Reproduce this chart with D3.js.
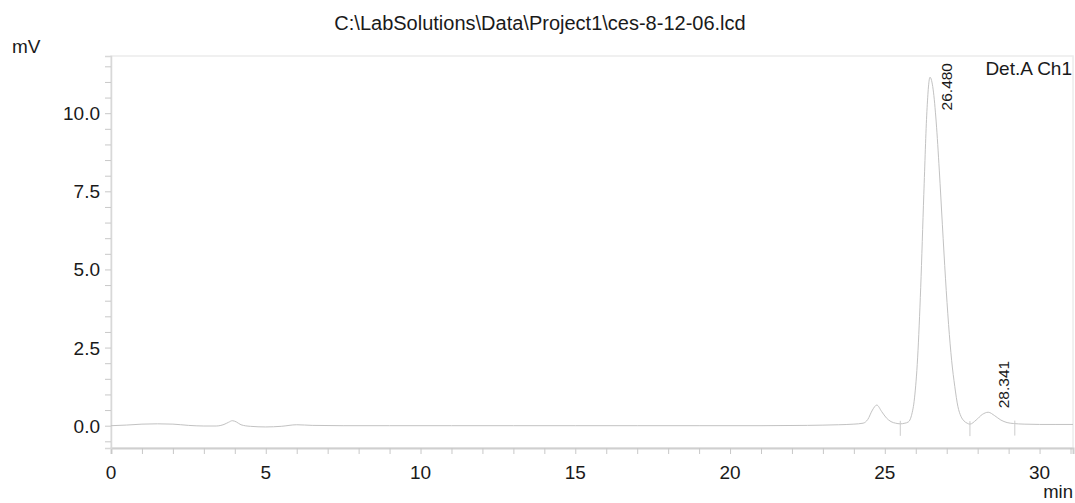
<!DOCTYPE html>
<html>
<head>
<meta charset="utf-8">
<script src="https://cdn.jsdelivr.net/npm/d3@7"></script>
<style>
  html, body { margin: 0; padding: 0; background: #fff; }
  svg { display: block; font-family: "Liberation Sans", Arial, sans-serif; }
</style>
</head>
<body>
<svg id="chart" width="1075" height="503"></svg>
<script>
// ---- data ----
const title = "C:\\LabSolutions\\Data\\Project1\\ces-8-12-06.lcd";
const channelLabel = "Det.A Ch1";
const yUnit = "mV";
const xUnit = "min";

const timeMin = [0, 0.5, 1.0, 1.5, 2.0, 2.5, 3.0, 3.4, 3.65, 3.8, 3.92, 4.05, 4.2, 4.5, 5.0, 5.5, 6.0, 6.5, 7.5, 9, 11, 13, 15, 17, 19, 21, 22.5, 23.5, 24.0, 24.3, 24.45, 24.6, 24.74, 24.9, 25.05, 25.2, 25.35, 25.5,
  25.65, 25.76, 25.86, 25.96, 26.06, 26.16, 26.26, 26.36, 26.46, 26.56, 26.66, 26.76, 26.86, 26.96, 27.06, 27.16, 27.26, 27.36, 27.46, 27.56, 27.66, 27.75,
  27.95, 28.15, 28.34, 28.55, 28.75, 28.95, 29.15, 29.5, 30.0, 30.5, 31.08];
const signalMv = [0.0, 0.02, 0.05, 0.06, 0.05, 0.01, -0.01, -0.01, 0.04, 0.11, 0.16, 0.12, 0.03, -0.02, -0.04, -0.02, 0.03, 0.01, 0.0, 0.0, 0.0, 0.0, 0.0, 0.0, 0.0, 0.0, 0.01, 0.03, 0.05, 0.08, 0.2, 0.5, 0.66, 0.45, 0.25, 0.13, 0.08, 0.06,
  0.08, 0.12, 0.32, 0.89, 2.17, 4.43, 7.4, 10.06, 11.15, 10.77, 9.72, 8.18, 6.43, 4.72, 3.24, 2.08, 1.26, 0.62, 0.3, 0.15, 0.08, 0.05,
  0.18, 0.36, 0.43, 0.32, 0.18, 0.1, 0.07, 0.05, 0.04, 0.04, 0.04];

const peakTimes = [26.48, 28.341];
const peakHeights = [11.15, 0.43];
const peakLabels = ["26.480", "28.341"];
const baselineMarks = [25.5, 27.75, 29.2];

const xMajorTicks = [0, 5, 10, 15, 20, 25, 30];
const xMajorLabels = ["0", "5", "10", "15", "20", "25", "30"];
const yMajorTicks = [0, 2.5, 5, 7.5, 10];
const yMajorLabels = ["0.0", "2.5", "5.0", "7.5", "10.0"];

// ---- layout ----
const svg = d3.select("#chart");
const L = 111, R = 1073, T = 56, B = 448;
const x = d3.scaleLinear().domain([0, 31.08]).range([L, R]);
const y = d3.scaleLinear().domain([-0.714, 11.83]).range([B, T]);

const axisColor = "#c8c8c8";
const textColor = "#1a1a1a";
const fs = 19;

// frame
svg.append("rect").attr("x", L).attr("y", T).attr("width", R - L).attr("height", B - T)
  .attr("fill", "none").attr("stroke", "#ececec").attr("stroke-width", 1.5);

// minor ticks arrays
const xMinor = d3.range(0, 32, 1);
const yMinor = d3.range(-0.5, 11.75, 0.5);

// x axis
const xAxis = d3.axisBottom(x).tickValues(xMinor).tickSize(6).tickFormat("");
const gx = svg.append("g").attr("transform", `translate(0,${B})`).call(xAxis);
gx.select(".domain").attr("stroke", "#cfcfcf").attr("stroke-width", 2);
gx.selectAll(".tick line").attr("stroke", axisColor);
svg.append("g").selectAll("text").data(xMajorTicks).join("text")
  .attr("x", d => x(d)).attr("y", 479)
  .attr("text-anchor", "middle").attr("font-size", fs).attr("fill", textColor)
  .text((d, i) => xMajorLabels[i]);

// y axis
const yAxis = d3.axisLeft(y).tickValues(yMinor).tickSize(6).tickFormat("");
const gy = svg.append("g").attr("transform", `translate(${L},0)`).call(yAxis);
gy.select(".domain").attr("stroke", "#d8d8d8").attr("stroke-width", 1.5);
gy.selectAll(".tick line").attr("stroke", axisColor);
svg.append("g").selectAll("text").data(yMajorTicks).join("text")
  .attr("x", 100).attr("y", d => y(d) + 7)
  .attr("text-anchor", "end").attr("font-size", fs).attr("fill", textColor)
  .text((d, i) => yMajorLabels[i]);

// trace
const pts = timeMin.map((t, i) => [t, signalMv[i]]);
const line = d3.line().x(d => x(d[0])).y(d => y(d[1])).curve(d3.curveMonotoneX);
svg.append("path").datum(pts).attr("d", line)
  .attr("fill", "none").attr("stroke", "#c2c2c2").attr("stroke-width", 1);

// baseline markers
const baseAt = t => d3.scaleLinear().domain(timeMin).range(signalMv)(t);
svg.append("g").selectAll("line").data(baselineMarks).join("line")
  .attr("x1", d => x(d)).attr("x2", d => x(d))
  .attr("y1", d => y(baseAt(d)) - 3).attr("y2", d => y(baseAt(d)) + 12)
  .attr("stroke", "#cccccc").attr("stroke-width", 1);

// peak labels (rotated)
const pfs = 15.5;
svg.append("g").selectAll("text").data(peakTimes).join("text")
  .attr("font-size", pfs).attr("fill", textColor)
  .text((d, i) => peakLabels[i])
  .attr("transform", function (d, i) {
    const len = this.getComputedTextLength();
    const px = x(d) + 21;
    const py = Math.max(y(peakHeights[i]) - 4, T + 7 + len);
    return `translate(${px},${py}) rotate(-90)`;
  });

// texts
svg.append("text").attr("x", 540).attr("y", 30).attr("text-anchor", "middle")
  .attr("font-size", 20).attr("fill", textColor).text(title);
svg.append("text").attr("x", 1072).attr("y", 75).attr("text-anchor", "end")
  .attr("font-size", fs).attr("fill", textColor).text(channelLabel);
svg.append("text").attr("x", 12).attr("y", 53)
  .attr("font-size", fs).attr("fill", textColor).text(yUnit);
svg.append("text").attr("x", 1073).attr("y", 498).attr("text-anchor", "end")
  .attr("font-size", 18.5).attr("fill", textColor).text(xUnit);
</script>
</body>
</html>
